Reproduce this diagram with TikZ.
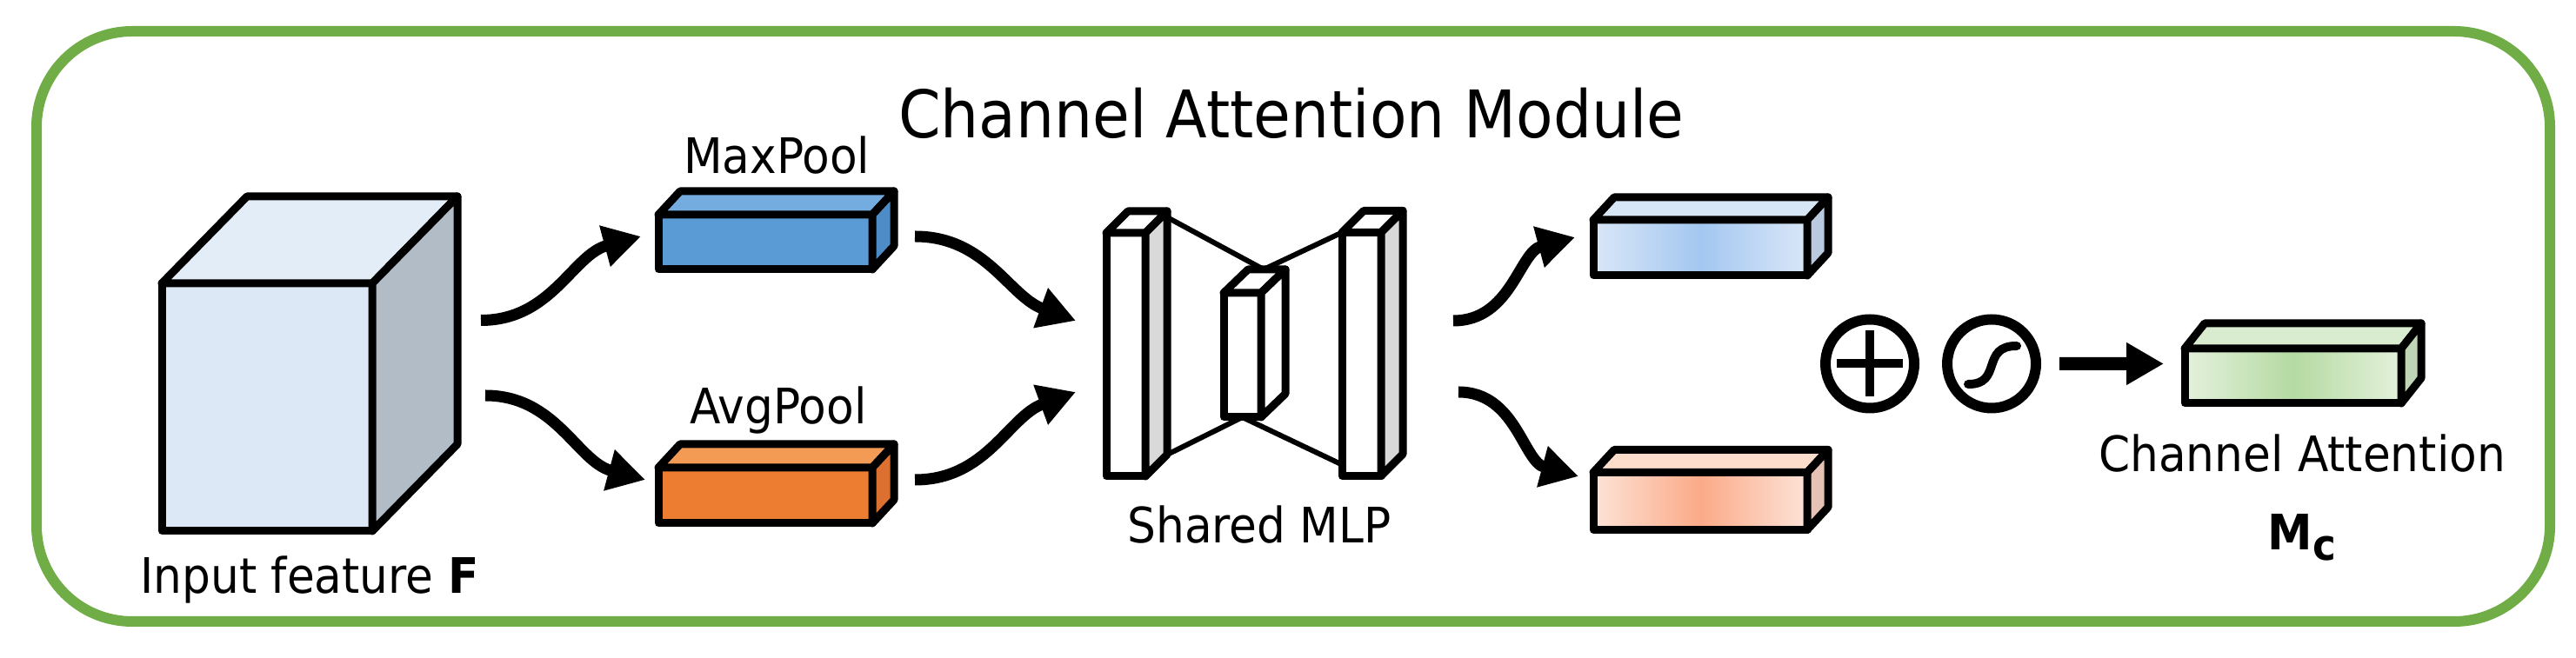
\documentclass[tikz,border=0pt]{standalone}
\usepackage{fontspec}
\setmainfont{DejaVu Sans}[FakeStretch=0.92]
\usepackage{tikz}
\usetikzlibrary{arrows.meta}

\definecolor{framegreen}{HTML}{70AD47}
\definecolor{cubefront}{HTML}{DCE8F5}
\definecolor{cubetop}{HTML}{E2EDF8}
\definecolor{cubeside}{HTML}{B2BCC7}
\definecolor{maxfront}{HTML}{5B9BD5}
\definecolor{maxtop}{HTML}{74ACDF}
\definecolor{maxside}{HTML}{4D8CC6}
\definecolor{avgfront}{HTML}{ED7D31}
\definecolor{avgtop}{HTML}{F39A55}
\definecolor{avgside}{HTML}{DB7030}
\definecolor{mlpside}{HTML}{D9D9D9}
\definecolor{outmaxedge}{HTML}{D9E7F8}
\definecolor{outmaxmid}{HTML}{A3C7F0}
\definecolor{outmaxtop}{HTML}{D7E6F7}
\definecolor{outmaxside}{HTML}{B9CAE0}
\definecolor{outavgedge}{HTML}{FDE3D7}
\definecolor{outavgmid}{HTML}{FBAA88}
\definecolor{outavgtop}{HTML}{FCDCCB}
\definecolor{outavgside}{HTML}{E6C2B4}
\definecolor{attedge}{HTML}{E4F1DC}
\definecolor{attmid}{HTML}{B5DAA2}
\definecolor{atttop}{HTML}{D9ECCF}
\definecolor{attside}{HTML}{BFD5B5}

\tikzset{
    face/.style={draw=black, line width=0.9mm, line join=round, inner sep=0, outer sep=0},
    flow/.style={line width=1.3mm, -{Triangle[length=4.3mm,width=4.6mm]}},
    txt/.style={font=\fontsize{16}{19}\selectfont, anchor=base}
}

\begin{document}
\begin{tikzpicture}

        \useasboundingbox (0,0) rectangle (29.62,7.57);
        \draw[framegreen, line width=1.2mm, rounded corners=11mm] (0.42,0.42) rectangle (29.32,7.21);

        \node[face, fill=cubefront, minimum width=24.2mm, minimum height=28.5mm] (feat) at (3.07,2.885) {};
        \node[face, fill=maxfront, minimum width=24.6mm, minimum height=6.3mm] (maxp) at (8.80,4.785) {};
        \node[face, fill=avgfront, minimum width=24.6mm, minimum height=6.4mm] (avgp) at (8.80,1.87) {};
        \node[face, fill=white, minimum width=4.5mm, minimum height=28mm] (mlpa) at (12.945,3.49) {};
        \node[face, fill=white, minimum width=4.3mm, minimum height=14.3mm] (mlpb) at (14.285,3.485) {};
        \node[face, fill=white, minimum width=4.5mm, minimum height=28mm] (mlpc) at (15.655,3.495) {};
        \node[face, left color=outmaxedge, right color=outmaxedge, middle color=outmaxmid, minimum width=24.6mm, minimum height=6.4mm] (outmax) at (19.55,4.72) {};
        \node[face, left color=outavgedge, right color=outavgedge, middle color=outavgmid, minimum width=24.6mm, minimum height=6.6mm] (outavg) at (19.55,1.805) {};
        \node[face, circle, line width=1.2mm, minimum size=10.2mm] (plus) at (21.50,3.385) {};
        \node[face, circle, line width=1.2mm, minimum size=10.2mm] (sig) at (22.90,3.385) {};
        \node[face, left color=attedge, right color=attedge, middle color=attmid, minimum width=24.9mm, minimum height=6.3mm] (att) at (26.365,3.245) {};

        \foreach \n/\dx/\dy/\tc/\sc in {feat/0.98/1.0/cubetop/cubeside, maxp/0.25/0.27/maxtop/maxside,
            avgp/0.25/0.27/avgtop/avgside, mlpa/0.25/0.25/white/mlpside, mlpb/0.28/0.27/white/white,
            mlpc/0.25/0.25/white/mlpside, outmax/0.24/0.26/outmaxtop/outmaxside,
            outavg/0.24/0.26/outavgtop/outavgside, att/0.23/0.29/atttop/attside}
        {
            \draw[face, fill=\tc] (\n.north west) -- ++(\dx,\dy) -- ([shift={(\dx,\dy)}]\n.north east) -- (\n.north east) -- cycle;
            \draw[face, fill=\sc] (\n.north east) -- ++(\dx,\dy) -- ([shift={(\dx,\dy)}]\n.south east) -- (\n.south east) -- cycle;
        }

        \path[-, line width=0.6mm] ([shift={(0.25,0.18)}]mlpa.north east) edge ([shift={(0.03,0.27)}]mlpb.north east);
        \path[-, line width=0.6mm] ([shift={(0.03,0.27)}]mlpb.north east) edge (mlpc.north west);
        \path[-, line width=0.6mm] ([shift={(0.25,0.25)}]mlpa.south east) edge (mlpb.south);
        \path[-, line width=0.6mm] (mlpb.south) edge ([yshift=1.3mm]mlpc.south west);

        \draw[line width=1mm] ([xshift=-3.8mm]plus.center) -- ([xshift=3.8mm]plus.center);
        \draw[line width=1mm] ([yshift=-3.8mm]plus.center) -- ([yshift=3.8mm]plus.center);
        \draw[line width=1mm, line cap=round] ([shift={(-0.27,-0.235)}]sig.center) .. controls ([shift={(0.13,-0.24)}]sig.center) and ([shift={(-0.13,0.21)}]sig.center) .. ([shift={(0.29,0.205)}]sig.center);

        \path[flow] ([shift={(1.25,1.0)}]feat.east) edge[out=0, in=195] ([shift={(-0.2,0.065)}]maxp.west);
        \path[flow] ([shift={(1.30,0.135)}]feat.east) edge[out=0, in=165] ([shift={(-0.15,0.18)}]avgp.west);
        \path[flow] ([shift={(0.49,0.065)}]maxp.east) edge[out=0, in=160] ([shift={(-0.35,0.39)}]mlpa.west);
        \path[flow] ([shift={(0.49,0.18)}]avgp.east) edge[out=0, in=200] ([shift={(-0.35,-0.43)}]mlpa.west);
        \path[flow] ([shift={(0.83,0.385)}]mlpc.east) edge[out=0, in=195] ([shift={(-0.21,0.12)}]outmax.west);
        \path[flow] ([shift={(0.89,-0.435)}]mlpc.east) edge[out=0, in=165] ([shift={(-0.17,0.285)}]outavg.west);
        \path[flow, line width=1.5mm] ([xshift=2.7mm]sig.east) edge ([shift={(-0.24,0.14)}]att.west);

        \node[txt, font=\fontsize{21.5}{26}\selectfont] (title) at (14.85,5.98) {Channel Attention Module};
        \node[txt] (featlbl) at (3.56,0.74) {Input feature \textbf{F}};
        \node[txt] (maxlbl) at (8.93,5.57) {MaxPool};
        \node[txt] (avglbl) at (8.95,2.69) {AvgPool};
        \node[txt] (mlplbl) at (14.48,1.32) {Shared MLP};
        \node[txt] (attlbl) at (26.47,2.14) {Channel Attention};
        \node[txt] (mclbl) at (26.47,1.24) {\textbf{M}\raisebox{-1.2mm}{\fontsize{14}{16}\selectfont\textbf{c}}};

    \end{tikzpicture}
\end{document}
